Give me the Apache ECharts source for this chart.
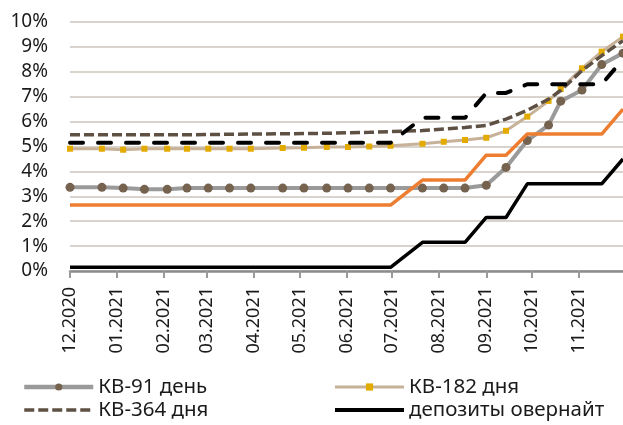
<!DOCTYPE html>
<html>
<head>
<meta charset="utf-8">
<script src="https://cdn.jsdelivr.net/npm/echarts@6/dist/echarts.min.js"></script>
<style>
  html, body { margin: 0; padding: 0; background: #fff; }
  #chart { width: 623px; height: 425px; }
</style>
</head>
<body>
<div id="chart"></div>
<script>
// Auction dates and rates, %
const dates = [
  '2020-12-01', '2020-12-22', '2021-01-05', '2021-01-19', '2021-02-03',
  '2021-02-16', '2021-03-02', '2021-03-16', '2021-03-30', '2021-04-20',
  '2021-05-04', '2021-05-19', '2021-06-02', '2021-06-16', '2021-06-30',
  '2021-07-21', '2021-08-04', '2021-08-18', '2021-09-01', '2021-09-14',
  '2021-09-28', '2021-10-12', '2021-10-20', '2021-11-03', '2021-11-16',
  '2021-11-30'
];
const kv91 = [3.36, 3.36, 3.33, 3.28, 3.28, 3.33, 3.33, 3.33, 3.33, 3.33,
  3.33, 3.33, 3.33, 3.33, 3.33, 3.33, 3.33, 3.33, 3.44, 4.16,
  5.24, 5.86, 6.82, 7.27, 8.29, 8.75];
const kv182 = [4.91, 4.91, 4.87, 4.91, 4.91, 4.91, 4.91, 4.91, 4.91, 4.94,
  4.95, 4.98, 4.98, 5.00, 5.03, 5.11, 5.19, 5.26, 5.35, 5.63,
  6.20, 6.83, 7.31, 8.14, 8.81, 9.41];
const kv364 = [5.47, 5.47, 5.47, 5.47, 5.47, 5.47, 5.48, 5.49, 5.50, 5.51,
  5.52, 5.53, 5.55, 5.57, 5.60, 5.64, 5.70, 5.76, 5.85, 6.10,
  6.45, 6.90, 7.25, 8.05, 8.65, 9.25];
const baseRate = [2.65, 2.65, 2.65, 2.65, 2.65, 2.65, 2.65, 2.65, 2.65, 2.65,
  2.65, 2.65, 2.65, 2.65, 2.65, 3.65, 3.65, 3.65, 4.65, 4.65,
  5.50, 5.50, 5.50, 5.50, 5.50, 6.50];
const overnightDeposits = [0.15, 0.15, 0.15, 0.15, 0.15, 0.15, 0.15, 0.15, 0.15, 0.15,
  0.15, 0.15, 0.15, 0.15, 0.15, 1.15, 1.15, 1.15, 2.15, 2.15,
  3.50, 3.50, 3.50, 3.50, 3.50, 4.50];
const overnightCredits = [5.15, 5.15, 5.15, 5.15, 5.15, 5.15, 5.15, 5.15, 5.15, 5.15,
  5.15, 5.15, 5.15, 5.15, 5.15, 6.15, 6.15, 6.15, 7.15, 7.15,
  7.50, 7.50, 7.50, 7.50, 7.50, 8.50];

const names = {
  kv91: 'КВ-91 день',
  kv182: 'КВ-182 дня',
  kv364: 'КВ-364 дня',
  dep: 'депозиты овернайт',
  base: 'базовая ставка',
  cred: 'кредиты овернайт'
};

const FONT = 'Noto Sans';
const pair = arr => dates.map((d, i) => [d, arr[i]]);
const pad2 = n => (n < 10 ? '0' : '') + n;

const chart = echarts.init(document.getElementById('chart'), null, { renderer: 'canvas' });

const legendText = { fontFamily: FONT, fontSize: 20.5, color: '#1a1a1a', lineHeight: 22 };
const legendBase = {
  orient: 'vertical', top: 376, height: 50, padding: 0, itemGap: 1,
  itemWidth: 69, itemHeight: 9,
  textStyle: legendText
};
// lines without markers: hide the legend marker, keep the line
const noMarker = { opacity: 0 };

chart.setOption({
  animation: false,
  backgroundColor: '#ffffff',
  grid: { left: 70, right: 0, top: 22, bottom: 154 },
  legend: [
    Object.assign({}, legendBase, {
      left: 22,
      data: [
        { name: names.kv91, lineStyle: { width: 4.5 } },
        { name: names.kv364, itemStyle: noMarker, lineStyle: { width: 3.5 } }
      ]
    }),
    Object.assign({}, legendBase, {
      left: 333,
      data: [
        { name: names.kv182, lineStyle: { width: 3 } },
        { name: names.dep, itemStyle: noMarker, lineStyle: { width: 4 } }
      ]
    })
  ],
  xAxis: {
    type: 'time',
    min: '2020-12-01',
    max: '2021-11-30',
    minInterval: 28 * 86400000,
    maxInterval: 31 * 86400000,
    axisLine: { lineStyle: { color: '#8c8c8c', width: 2.5 } },
    axisTick: { show: true, length: 7, lineStyle: { color: '#9a9a9a', width: 2 } },
    splitLine: { show: false },
    axisLabel: {
      rotate: 90,
      margin: 16,
      fontFamily: FONT,
      fontSize: 18,
      color: '#1a1a1a',
      hideOverlap: false,
      formatter: v => {
        const d = new Date(v);
        return pad2(d.getMonth() + 1) + '.' + d.getFullYear();
      }
    }
  },
  yAxis: {
    type: 'value',
    min: 0, max: 10, interval: 1,
    axisLine: { show: false },
    axisTick: { show: false },
    splitLine: { lineStyle: { color: '#d8d3cc', width: 2 } },
    axisLabel: {
      margin: 22,
      fontFamily: FONT,
      fontSize: 19,
      color: '#1a1a1a',
      formatter: v => v + '%'
    }
  },
  series: [
    {
      name: names.kv91, type: 'line', data: pair(kv91),
      symbol: 'circle', symbolSize: 9, showSymbol: true,
      lineStyle: { color: '#9a9a9a', width: 4 },
      itemStyle: { color: '#75624f', borderWidth: 0 },
      z: 3
    },
    {
      name: names.kv182, type: 'line', data: pair(kv182),
      symbol: 'rect', symbolSize: 6, showSymbol: true,
      lineStyle: { color: '#c7b299', width: 3 },
      itemStyle: { color: '#e3aa00', borderWidth: 0 },
      z: 4
    },
    {
      name: names.kv364, type: 'line', data: pair(kv364),
      symbol: 'none',
      lineStyle: { color: '#5e5143', width: 3.5, type: [10, 4] },
      itemStyle: { color: '#5e5143' },
      z: 5
    },
    {
      name: names.base, type: 'line', data: pair(baseRate),
      symbol: 'none',
      lineStyle: { color: '#ed7d31', width: 3.5 },
      itemStyle: { color: '#ed7d31' },
      z: 6
    },
    {
      name: names.dep, type: 'line', data: pair(overnightDeposits),
      symbol: 'none',
      lineStyle: { color: '#000000', width: 3.5 },
      itemStyle: { color: '#000000' },
      z: 7
    },
    {
      name: names.cred, type: 'line', data: pair(overnightCredits),
      symbol: 'none',
      lineStyle: { color: '#000000', width: 4, type: [13, 15], cap: 'round' },
      itemStyle: { color: '#000000' },
      z: 8
    }
  ]
});
</script>
</body>
</html>
